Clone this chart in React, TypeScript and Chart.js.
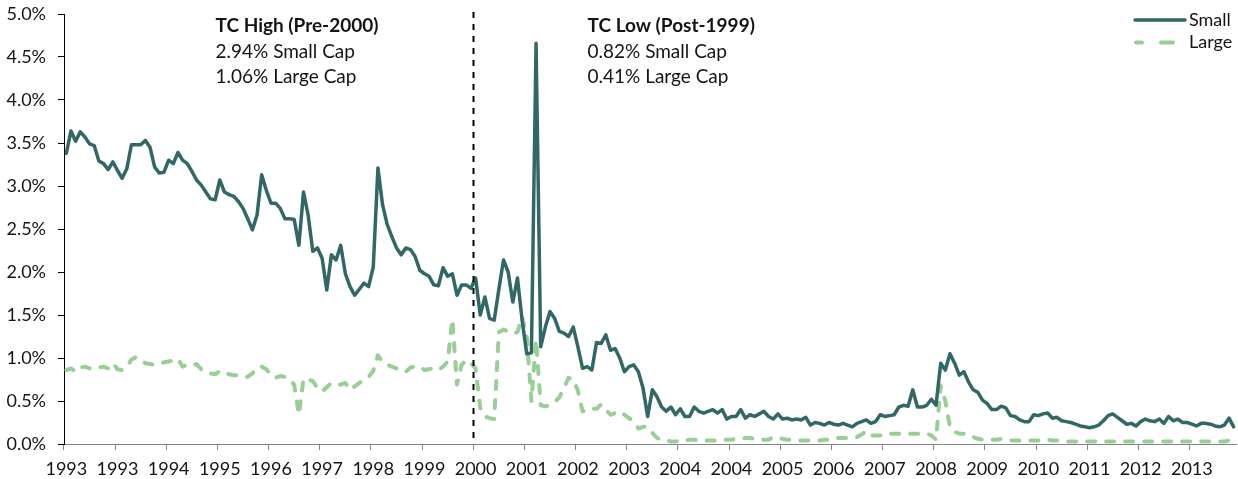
import React, { useEffect, useRef } from 'react';
import { Chart, registerables } from 'chart.js';

Chart.register(...registerables);

// ---- Data ----
const START_YEAR = 1993;
const MONTH_COUNT = 252; // Jan 1993 .. Dec 2013
const categories: string[] = Array.from({ length: MONTH_COUNT }, (_, i) =>
  `${START_YEAR + Math.floor(i / 12)}-${String((i % 12) + 1).padStart(2, '0')}`
);
const TICK_EVERY = 11; // x-axis label interval (months)
const DIVIDER_INDEX = 88; // dashed divider sits at the "2000" tick

const yTicks = [0, 0.5, 1.0, 1.5, 2.0, 2.5, 3.0, 3.5, 4.0, 4.5, 5.0];

// Small cap transaction cost (%), monthly
const smallCap: number[] = [
  3.38, 3.64, 3.52, 3.63, 3.57, 3.49, 3.47, 3.29, 3.26, 3.19, 3.28, 3.18, // 1993
  3.09, 3.20, 3.48, 3.48, 3.48, 3.53, 3.45, 3.22, 3.15, 3.16, 3.30, 3.26, // 1994
  3.39, 3.30, 3.26, 3.17, 3.07, 3.01, 2.93, 2.85, 2.84, 3.07, 2.93, 2.90, // 1995
  2.88, 2.82, 2.74, 2.62, 2.49, 2.66, 3.13, 2.95, 2.80, 2.80, 2.74, 2.62, // 1996
  2.62, 2.61, 2.31, 2.93, 2.66, 2.24, 2.28, 2.16, 1.79, 2.20, 2.14, 2.31, // 1997
  1.98, 1.83, 1.73, 1.80, 1.87, 1.83, 2.06, 3.21, 2.78, 2.55, 2.41, 2.28, // 1998
  2.20, 2.28, 2.26, 2.18, 2.02, 1.98, 1.95, 1.85, 1.84, 2.05, 1.95, 1.98, // 1999
  1.73, 1.85, 1.85, 1.81, 1.93, 1.50, 1.71, 1.46, 1.44, 1.80, 2.14, 2.00, // 2000
  1.65, 1.93, 1.44, 1.05, 1.06, 4.66, 1.13, 1.36, 1.54, 1.46, 1.31, 1.29, // 2001
  1.25, 1.36, 1.13, 0.88, 0.90, 0.86, 1.18, 1.17, 1.27, 1.09, 1.11, 1.00, // 2002
  0.84, 0.90, 0.92, 0.84, 0.65, 0.32, 0.63, 0.55, 0.43, 0.38, 0.43, 0.34, // 2003
  0.41, 0.32, 0.32, 0.43, 0.38, 0.36, 0.38, 0.40, 0.36, 0.40, 0.29, 0.32, // 2004
  0.32, 0.40, 0.30, 0.34, 0.32, 0.35, 0.38, 0.32, 0.29, 0.35, 0.29, 0.30, // 2005
  0.28, 0.29, 0.28, 0.31, 0.22, 0.25, 0.24, 0.22, 0.25, 0.23, 0.22, 0.24, // 2006
  0.22, 0.20, 0.24, 0.26, 0.28, 0.24, 0.26, 0.34, 0.32, 0.33, 0.34, 0.43, // 2007
  0.45, 0.44, 0.63, 0.43, 0.43, 0.45, 0.52, 0.45, 0.94, 0.86, 1.05, 0.94, // 2008
  0.80, 0.84, 0.72, 0.63, 0.60, 0.51, 0.47, 0.40, 0.40, 0.44, 0.42, 0.33, // 2009
  0.32, 0.28, 0.26, 0.26, 0.34, 0.33, 0.35, 0.36, 0.30, 0.31, 0.27, 0.26, // 2010
  0.25, 0.23, 0.21, 0.20, 0.19, 0.20, 0.22, 0.27, 0.33, 0.35, 0.31, 0.27, // 2011
  0.23, 0.24, 0.21, 0.26, 0.29, 0.27, 0.26, 0.29, 0.24, 0.32, 0.27, 0.29, // 2012
  0.25, 0.25, 0.23, 0.21, 0.24, 0.24, 0.23, 0.21, 0.20, 0.22, 0.30, 0.20, // 2013
];

// Large cap transaction cost (%), monthly
const largeCap: number[] = [
  0.86, 0.88, 0.84, 0.89, 0.90, 0.88, 0.90, 0.89, 0.90, 0.88, 0.94, 0.87, // 1993
  0.86, 0.90, 0.98, 1.01, 0.97, 0.94, 0.93, 0.92, 0.93, 0.95, 0.96, 0.97, // 1994
  0.99, 0.90, 0.92, 0.91, 0.93, 0.87, 0.84, 0.82, 0.81, 0.85, 0.83, 0.81, // 1995
  0.80, 0.80, 0.79, 0.78, 0.82, 0.89, 0.90, 0.87, 0.80, 0.77, 0.79, 0.78, // 1996
  0.75, 0.69, 0.34, 0.76, 0.75, 0.73, 0.65, 0.61, 0.66, 0.71, 0.70, 0.69, // 1997
  0.71, 0.63, 0.67, 0.71, 0.75, 0.78, 0.85, 1.03, 0.95, 0.92, 0.90, 0.88, // 1998
  0.85, 0.84, 0.89, 0.90, 0.90, 0.86, 0.87, 0.88, 0.86, 0.90, 0.96, 1.45, // 1999
  0.69, 0.92, 0.98, 0.94, 0.88, 0.42, 0.32, 0.30, 0.29, 1.30, 1.33, 1.31, // 2000
  1.28, 1.30, 1.48, 1.25, 0.50, 1.21, 0.45, 0.44, 0.45, 0.49, 0.54, 0.65, // 2001
  0.77, 0.75, 0.62, 0.38, 0.38, 0.41, 0.41, 0.46, 0.40, 0.34, 0.36, 0.38, // 2002
  0.34, 0.30, 0.26, 0.18, 0.20, 0.20, 0.13, 0.07, 0.05, 0.04, 0.03, 0.03, // 2003
  0.04, 0.04, 0.05, 0.05, 0.04, 0.04, 0.04, 0.04, 0.04, 0.05, 0.05, 0.05, // 2004
  0.06, 0.06, 0.07, 0.07, 0.06, 0.06, 0.05, 0.05, 0.08, 0.07, 0.06, 0.05, // 2005
  0.05, 0.04, 0.04, 0.04, 0.04, 0.04, 0.04, 0.05, 0.05, 0.06, 0.07, 0.07, // 2006
  0.07, 0.07, 0.08, 0.11, 0.15, 0.10, 0.10, 0.10, 0.10, 0.12, 0.12, 0.12, // 2007
  0.12, 0.12, 0.12, 0.12, 0.12, 0.12, 0.10, 0.05, 0.68, 0.50, 0.20, 0.14, // 2008
  0.12, 0.12, 0.09, 0.08, 0.06, 0.05, 0.05, 0.05, 0.05, 0.06, 0.05, 0.04, // 2009
  0.04, 0.04, 0.04, 0.04, 0.04, 0.04, 0.04, 0.05, 0.04, 0.04, 0.04, 0.03, // 2010
  0.03, 0.03, 0.03, 0.03, 0.03, 0.03, 0.03, 0.03, 0.03, 0.03, 0.03, 0.03, // 2011
  0.03, 0.03, 0.03, 0.03, 0.03, 0.03, 0.03, 0.03, 0.03, 0.03, 0.03, 0.03, // 2012
  0.03, 0.03, 0.03, 0.03, 0.03, 0.03, 0.03, 0.03, 0.03, 0.03, 0.04, 0.04, // 2013
];

const seriesNames = ['Small', 'Large'];
const leftNoteLines = ['TC High (Pre-2000)', '2.94% Small Cap', '1.06% Large Cap'];
const rightNoteLines = ['TC Low (Post-1999)', '0.82% Small Cap', '0.41% Large Cap'];

// ---- Styles ----
const SMALL_COLOR = '#316866';
const LARGE_COLOR = '#99CF96';
const TEXT_COLOR = '#141414';
const FONT_FAMILY = 'Lato, "Noto Sans", sans-serif';
const X_AXIS_COLOR = '#868686';
const LARGE_DASH = [8, 11];

const overlayPlugin = {
  id: 'overlay',
  afterDatasetsDraw(chart: any) {
    const { ctx, chartArea, scales } = chart;
    const x = scales.x;
    const xDiv = Math.round((x.getPixelForValue(DIVIDER_INDEX - 1) + x.getPixelForValue(DIVIDER_INDEX)) / 2) + 0.5;

    ctx.save();
    // divider
    ctx.strokeStyle = '#000';
    ctx.lineWidth = 2;
    ctx.setLineDash([6, 6]);
    ctx.beginPath();
    ctx.moveTo(xDiv, chartArea.top - 2);
    ctx.lineTo(xDiv, chartArea.bottom);
    ctx.stroke();
    ctx.setLineDash([]);

    // annotations
    const drawNote = (lines: string[], left: number) => {
      ctx.fillStyle = TEXT_COLOR;
      ctx.textAlign = 'left';
      ctx.textBaseline = 'middle';
      lines.forEach((t, i) => {
        ctx.font = `${i === 0 ? 'bold ' : ''}19px ${FONT_FAMILY}`;
        ctx.fillText(t, left, chartArea.top + 12 + i * 25.5);
      });
    };
    drawNote(leftNoteLines, chartArea.left + 151.5);
    drawNote(rightNoteLines, chartArea.left + 523.5);

    // legend
    const lx0 = chartArea.right - 101;
    const lx1 = chartArea.right - 51;
    const rows = [chartArea.top + 6, chartArea.top + 28.5];
    ctx.lineCap = 'round';
    ctx.strokeStyle = SMALL_COLOR;
    ctx.lineWidth = 3.5;
    ctx.beginPath();
    ctx.moveTo(lx0, rows[0]);
    ctx.lineTo(lx1, rows[0]);
    ctx.stroke();
    ctx.strokeStyle = LARGE_COLOR;
    ctx.lineWidth = 4;
    ctx.beginPath();
    ctx.moveTo(lx0 + 1, rows[1]);
    ctx.lineTo(lx0 + 7, rows[1]);
    ctx.moveTo(lx0 + 26, rows[1]);
    ctx.lineTo(lx0 + 38, rows[1]);
    ctx.stroke();
    ctx.font = `18px ${FONT_FAMILY}`;
    ctx.fillStyle = TEXT_COLOR;
    ctx.textAlign = 'left';
    ctx.textBaseline = 'middle';
    ctx.fillText(seriesNames[0], lx1 + 4, rows[0]);
    ctx.fillText(seriesNames[1], lx1 + 4, rows[1]);
    ctx.restore();
  },
};

export default function App() {
  const canvasRef = useRef<HTMLCanvasElement | null>(null);

  useEffect(() => {
    document.body.style.margin = '0';
    const canvas = canvasRef.current;
    if (!canvas) return;
    const tickFont = { family: FONT_FAMILY, size: 18 };
    const chart = new Chart(canvas, {
      type: 'line',
      data: {
        labels: categories,
        datasets: [
          {
            label: seriesNames[0],
            data: smallCap,
            borderColor: SMALL_COLOR,
            backgroundColor: SMALL_COLOR,
            borderWidth: 3.5,
            pointRadius: 0,
            tension: 0,
            borderJoinStyle: 'round',
            borderCapStyle: 'round',
            fill: false,
          },
          {
            label: seriesNames[1],
            data: largeCap,
            borderColor: LARGE_COLOR,
            backgroundColor: LARGE_COLOR,
            borderWidth: 4,
            borderDash: LARGE_DASH,
            pointRadius: 0,
            tension: 0,
            borderJoinStyle: 'round',
            borderCapStyle: 'round',
            fill: false,
          },
        ],
      },
      options: {
        animation: false,
        responsive: false,
        events: [],
        layout: { padding: { top: 14, right: 2, bottom: 0, left: 0 } },
        plugins: {
          legend: { display: false },
          tooltip: { enabled: false },
          title: { display: false },
        },
        scales: {
          x: {
            type: 'category',
            offset: true,
            grid: {
              offset: true,
              drawOnChartArea: false,
              drawTicks: true,
              tickLength: 6,
              lineWidth: 1,
              color: (c: any) =>
                c.index !== undefined && c.index % TICK_EVERY === 0 ? X_AXIS_COLOR : 'rgba(0,0,0,0)',
            },
            border: { display: true, color: X_AXIS_COLOR, width: 1 },
            ticks: {
              autoSkip: false,
              maxRotation: 0,
              minRotation: 0,
              padding: 8,
              color: TEXT_COLOR,
              font: tickFont,
              callback: (_v: any, i: number) =>
                i % TICK_EVERY === 0 ? categories[i].slice(0, 4) : '',
            },
            afterFit: (s: any) => {
              s.height = 35;
              s.paddingLeft = 0;
              s.paddingRight = 0;
            },
          },
          y: {
            type: 'linear',
            min: yTicks[0],
            max: yTicks[yTicks.length - 1],
            afterBuildTicks: (s: any) => {
              s.ticks = yTicks.map((v) => ({ value: v }));
            },
            grid: { drawOnChartArea: false, drawTicks: true, tickLength: 6, color: '#000', lineWidth: 1 },
            border: { display: true, color: '#000', width: 1 },
            ticks: {
              padding: 12,
              color: TEXT_COLOR,
              font: tickFont,
              callback: (v: any) => `${Number(v).toFixed(1)}%`,
            },
            afterFit: (s: any) => {
              s.width = 64;
              s.paddingTop = 0;
              s.paddingBottom = 0;
            },
          },
        },
      },
      plugins: [overlayPlugin],
    } as any);
    return () => chart.destroy();
  }, []);

  return (
    <div style={{ width: 1238, height: 479 }}>
      <canvas ref={canvasRef} width={1238} height={479} style={{ display: 'block' }} />
    </div>
  );
}
